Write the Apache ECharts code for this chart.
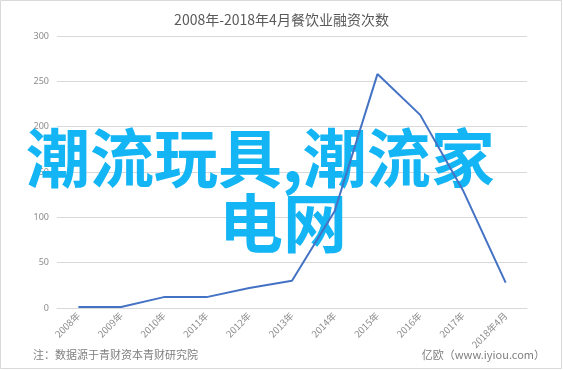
<!DOCTYPE html>
<html>
<head>
<meta charset="utf-8">
<script src="https://cdn.jsdelivr.net/npm/echarts@6/dist/echarts.min.js"></script>
<style>
html,body{margin:0;padding:0;background:#fff;}
#c{width:563px;height:370px;}
</style>
</head>
<body>
<div id="c"></div>
<script>
const categories = ['2008年','2009年','2010年','2011年','2012年','2013年','2014年','2015年','2016年','2017年','2018年4月'];
const values = [1, 1, 12, 12, 22, 30, 107, 258, 213, 130, 28];
const titleText = '2008年-2018年4月餐饮业融资次数';
const noteText = '注：数据源于青财资本青财研究院';
const sourceText = '亿欧（www.iyiou.com）';
const overlayLine1 = '潮流玩具,潮流家';
const overlayLine2 = '电网';

const chart = echarts.init(document.getElementById('c'), null, {renderer:'canvas'});
chart.setOption({
  animation: false,
  backgroundColor: '#fff',
  title: {
    text: titleText,
    left: 'center',
    top: 8,
    textStyle: {fontFamily: 'Noto Sans CJK SC', fontSize: 14, fontWeight: 'normal', color: '#595959'}
  },
  grid: {left: 57, right: 36, top: 36, bottom: 62, containLabel: false},
  xAxis: {
    type: 'category',
    data: categories,
    boundaryGap: true,
    axisLine: {lineStyle: {color: '#d9d9d9'}},
    axisTick: {show: false},
    axisLabel: {rotate: 45, fontSize: 9.5, color: '#8c8c8c', margin: 6, interval: 0, fontFamily: 'Noto Sans CJK SC'}
  },
  yAxis: {
    type: 'value',
    min: 0, max: 300, interval: 50,
    axisLine: {show: false},
    axisTick: {show: false},
    axisLabel: {fontSize: 9, color: '#8c8c8c', margin: 8, fontFamily: 'Noto Sans'},
    splitLine: {lineStyle: {color: '#d9d9d9', width: 1}}
  },
  series: [{
    type: 'line',
    data: values,
    symbol: 'none',
    z: 5,
    lineStyle: {color: '#4472C4', width: 2}
  }],
  graphic: [
    {type: 'rect', z: 0, silent: true, shape: {x: 0.5, y: 0.5, width: 561, height: 368}, style: {fill: 'none', stroke: '#d9d9d9', lineWidth: 1}},
    {type: 'text', z: 1, left: 26, top: 126, style: {text: overlayLine1, fill: '#13b5f5', font: 'bold 64px "Noto Sans CJK SC"'}},
    {type: 'text', z: 1, left: 219, top: 191, style: {text: overlayLine2, fill: '#13b5f5', font: 'bold 64px "Noto Sans CJK SC"'}},
    {type: 'text', z: 1, left: 33, top: 349, style: {text: noteText, fill: '#7f7f7f', font: '11px "Noto Sans CJK SC"'}},
    {type: 'text', z: 1, right: 18, top: 349, style: {text: sourceText, fill: '#7f7f7f', font: '11px "Noto Sans CJK SC"'}}
  ]
});
</script>
</body>
</html>
